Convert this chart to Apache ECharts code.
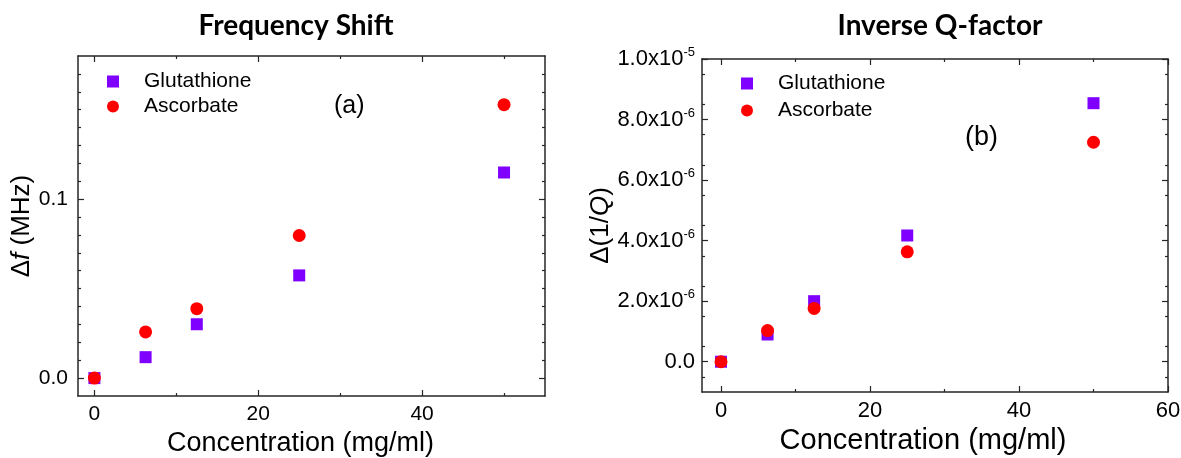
<!DOCTYPE html>
<html>
<head>
<meta charset="utf-8">
<title>Frequency Shift / Inverse Q-factor</title>
<script src="https://cdn.jsdelivr.net/npm/echarts/dist/echarts.min.js"></script>
<style>
  html, body { margin: 0; padding: 0; background: #fff; }
  #main { width: 1181px; height: 458px; }
</style>
</head>
<body>
<div id="main"></div>
<script>
// data
var concentration = [0, 6.25, 12.5, 25, 50];
var freqGlutathione = [0, 0.0117, 0.0301, 0.0574, 0.1149];
var freqAscorbate = [0, 0.0258, 0.0388, 0.0797, 0.1528];
var invQGlutathione = [0, 0.90e-6, 2.0e-6, 4.17e-6, 8.54e-6];
var invQAscorbate = [0, 1.03e-6, 1.76e-6, 3.63e-6, 7.25e-6];

// ticks
var freqXMajor = [0, 20, 40];
var freqXMinor = [10, 30, 50];
var freqYMajor = [0, 0.1];
var freqYMinor = [0.01, 0.02, 0.03, 0.04, 0.05, 0.06, 0.07, 0.08, 0.09, 0.11, 0.12, 0.13, 0.14, 0.15, 0.16, 0.17];
var invQXMajor = [0, 20, 40, 60];
var invQXMinor = [10, 30, 50];
var invQYMajor = [0, 2e-6, 4e-6, 6e-6, 8e-6, 1e-5];
var invQYMinor = [-0.5e-6, 0.5e-6, 1.5e-6, 2.5e-6, 3.5e-6, 4.5e-6, 5.5e-6, 6.5e-6, 7.5e-6, 8.5e-6, 9.5e-6];

var font = 'Liberation Sans, Arial, sans-serif';
var axisColor = '#262626';
var purple = '#7F00FF';
var red = '#FF0000';

function pairs(xs, ys) {
  return xs.map(function (x, i) { return [x, ys[i]]; });
}

// 4 axes for one dimension of a grid: main + minor ticks, on both sides (boxed frame)
function frameAxes(dim, grid, min, max, major, minor, label, nameOpt) {
  var sides = dim === 'x' ? ['bottom', 'top'] : ['left', 'right'];
  var list = [];
  sides.forEach(function (side, s) {
    [major, minor].forEach(function (ticks, k) {
      var ax = {
        gridIndex: grid,
        type: 'value',
        position: side,
        min: min,
        max: max,
        axisLine: { show: k === 0, onZero: false, lineStyle: { color: axisColor, width: 1.5 } },
        axisTick: { show: true, inside: true, length: k === 0 ? 6 : 3, customValues: ticks,
                    lineStyle: { color: axisColor, width: 1.2 } },
        axisLabel: { show: false },
        splitLine: { show: false }
      };
      if (s === 0 && k === 0) {
        ax.axisLabel = label;
        for (var key in nameOpt) ax[key] = nameOpt[key];
      }
      list.push(ax);
    });
  });
  return list;
}

function sciLabel(v) {
  if (Math.abs(v) < 1e-12) return '{n|0.0}';
  var e = Math.floor(Math.log10(v) + 1e-9);
  var m = v / Math.pow(10, e);
  return '{n|' + m.toFixed(1) + 'x10}{s|' + e + '}';
}

var xAxes = []
  .concat(frameAxes('x', 0, -2, 55, freqXMajor, freqXMinor,
    { customValues: freqXMajor, margin: 8, fontSize: 21, fontFamily: font, color: '#000' },
    { name: 'Concentration (mg/ml)', nameLocation: 'middle', nameGap: 32,
      nameTextStyle: { fontSize: 27, fontFamily: font, color: '#000', padding: [0, 22, 0, 0] } }))
  .concat(frameAxes('x', 1, -2.55, 60, invQXMajor, invQXMinor,
    { customValues: invQXMajor, margin: 8, fontSize: 22, fontFamily: font, color: '#000' },
    { name: 'Concentration (mg/ml)', nameLocation: 'middle', nameGap: 30,
      nameTextStyle: { fontSize: 29, fontFamily: font, color: '#000', padding: [0, 24, 0, 0] } }));

var yAxes = []
  .concat(frameAxes('y', 0, -0.01, 0.18, freqYMajor, freqYMinor,
    { customValues: freqYMajor, margin: 10, fontSize: 21, fontFamily: font, color: '#000',
      formatter: function (v) { return v.toFixed(1); } },
    { name: '{n|Δ}{i|f}{n| (MHz)}', nameLocation: 'middle', nameGap: 40,
      nameTextStyle: { rich: {
        n: { fontSize: 26, fontFamily: font, color: '#000' },
        i: { fontSize: 26, fontFamily: font, fontStyle: 'italic', color: '#000' } } } }))
  .concat(frameAxes('y', 1, -1e-6, 1e-5, invQYMajor, invQYMinor,
    { customValues: invQYMajor, margin: 7, formatter: sciLabel,
      rich: {
        n: { fontSize: 22, fontFamily: font, color: '#000', lineHeight: 26 },
        s: { fontSize: 13, fontFamily: font, color: '#000', lineHeight: 13, verticalAlign: 'top' } } },
    { name: '{n|Δ(1/}{i|Q}{n|)}', nameLocation: 'middle', nameGap: 86,
      nameTextStyle: { rich: {
        n: { fontSize: 26, fontFamily: font, color: '#000' },
        i: { fontSize: 26, fontFamily: font, fontStyle: 'italic', color: '#000' } } } }));

var squareIcon = 'path://M0,0H10V10H0Z';

var option = {
  backgroundColor: '#fff',
  animation: false,
  title: [
    { text: 'Frequency Shift', left: 296, top: 12, textAlign: 'center', padding: 0,
      textStyle: { fontFamily: 'Lato, sans-serif', fontWeight: 'bold', fontSize: 28, color: '#000' } },
    { text: 'Inverse Q-factor', left: 940, top: 12, textAlign: 'center', padding: 0,
      textStyle: { fontFamily: 'Lato, sans-serif', fontWeight: 'bold', fontSize: 28, color: '#000' } }
  ],
  legend: [
    { orient: 'vertical', left: 107, top: 71, padding: 0, itemWidth: 52, itemHeight: 12, itemGap: 4,
      selectedMode: false,
      data: [{ name: 'Glutathione', icon: squareIcon }, { name: 'Ascorbate', icon: 'circle' }],
      textStyle: { fontSize: 21, fontFamily: font, color: '#000' } },
    { orient: 'vertical', left: 741, top: 73, padding: 0, itemWidth: 52, itemHeight: 12, itemGap: 6,
      selectedMode: false,
      data: [{ name: 'Glutathione', icon: squareIcon }, { name: 'Ascorbate', icon: 'circle' }],
      textStyle: { fontSize: 21, fontFamily: font, color: '#000' } }
  ],
  grid: [
    { left: 78, top: 56, width: 467, height: 340, outerBoundsMode: 'none' },
    { left: 702, top: 59, width: 466, height: 333, outerBoundsMode: 'none' }
  ],
  xAxis: xAxes,
  yAxis: yAxes,
  graphic: [
    { type: 'text', left: 334, top: 94, style: { text: '(a)', fontSize: 25, fontFamily: font, fill: '#000' } },
    { type: 'text', left: 965, top: 124, style: { text: '(b)', fontSize: 27, fontFamily: font, fill: '#000' } }
  ],
  series: [
    { name: 'Glutathione', type: 'scatter', xAxisIndex: 0, yAxisIndex: 0, symbol: 'rect', symbolSize: 12,
      itemStyle: { color: purple, opacity: 1 }, data: pairs(concentration, freqGlutathione) },
    { name: 'Ascorbate', type: 'scatter', xAxisIndex: 0, yAxisIndex: 0, symbol: 'circle', symbolSize: 13,
      itemStyle: { color: red, opacity: 1 }, data: pairs(concentration, freqAscorbate) },
    { name: 'Glutathione', type: 'scatter', xAxisIndex: 4, yAxisIndex: 4, symbol: 'rect', symbolSize: 12,
      itemStyle: { color: purple, opacity: 1 }, data: pairs(concentration, invQGlutathione) },
    { name: 'Ascorbate', type: 'scatter', xAxisIndex: 4, yAxisIndex: 4, symbol: 'circle', symbolSize: 13,
      itemStyle: { color: red, opacity: 1 }, data: pairs(concentration, invQAscorbate) }
  ]
};

var myChart = echarts.init(document.getElementById('main'));
myChart.setOption(option);
</script>
</body>
</html>
